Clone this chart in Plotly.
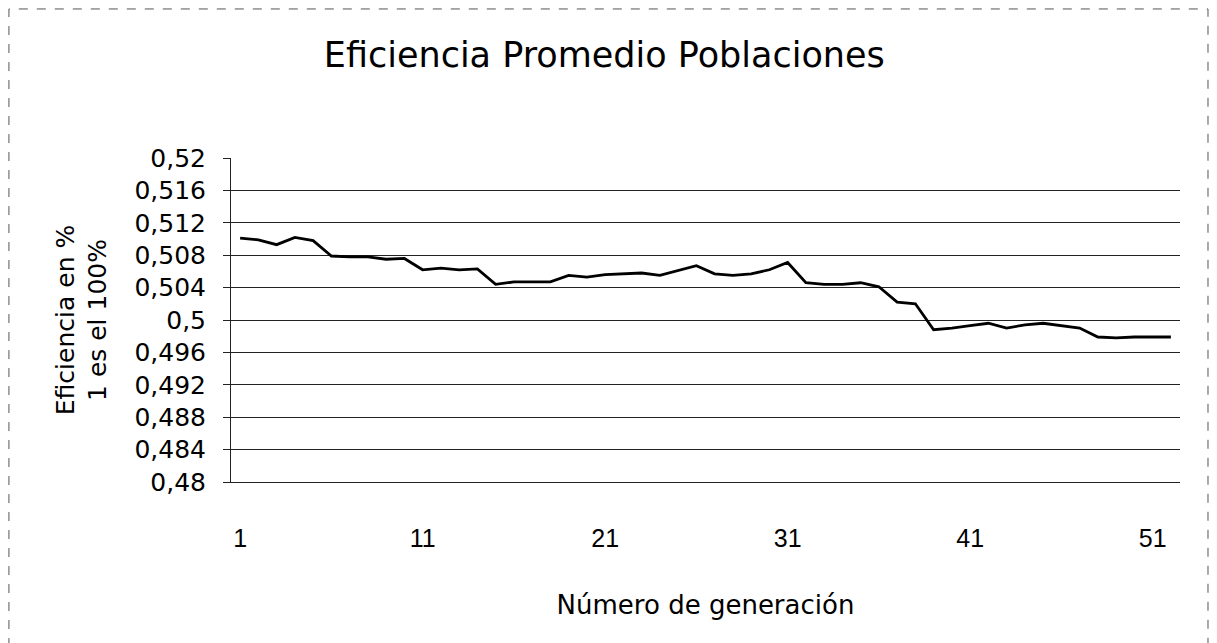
import plotly.graph_objects as go

# generation number 1..52
generaciones = list(range(1, 53))
eficiencia = [
    0.5101, 0.5099, 0.5093, 0.5102, 0.5098, 0.5079, 0.5078, 0.5078, 0.5075, 0.5076,
    0.5062, 0.5064, 0.5062, 0.5063, 0.5044, 0.5047, 0.5047, 0.5047, 0.5055, 0.5053,
    0.5056, 0.5057, 0.5058, 0.5055, 0.5061, 0.5067, 0.5057, 0.5055, 0.5057, 0.5062,
    0.5071, 0.5046, 0.5044, 0.5044, 0.5046, 0.5041, 0.5022, 0.5020, 0.4988, 0.4990,
    0.4993, 0.4996, 0.4990, 0.4994, 0.4996, 0.4993, 0.4990, 0.4979, 0.4978, 0.4979,
    0.4979, 0.4979,
]
x_ticks = [1, 11, 21, 31, 41, 51]
y_ticks = [0.48, 0.484, 0.488, 0.492, 0.496, 0.5, 0.504, 0.508, 0.512, 0.516, 0.52]
y_grid = y_ticks[1:-1]

FONT = "DejaVu Sans, Arial, sans-serif"
NARROW = "Liberation Sans, Arial, sans-serif"

fig = go.Figure()
fig.add_trace(go.Scatter(x=generaciones, y=eficiencia, mode="lines",
                         line=dict(color="black", width=2.8),
                         showlegend=False, hoverinfo="x+y"))
# invisible trace on the overlay axis that carries the gridlines
fig.add_trace(go.Scatter(x=generaciones[:1], y=eficiencia[:1], yaxis="y2",
                         mode="lines", line=dict(width=0),
                         showlegend=False, hoverinfo="skip"))

fig.update_layout(
    width=1217, height=643,
    paper_bgcolor="white", plot_bgcolor="white",
    font=dict(family=FONT, color="black", size=24),
    margin=dict(l=223, r=45, t=150, b=169),
    title=dict(text="Eficiencia Promedio Poblaciones", x=0.49, xanchor="center",
               y=1 - 47 / 643, yanchor="middle",
               font=dict(size=35, family=FONT, color="black")),
    xaxis=dict(range=[0.5, 52.5], tickvals=x_ticks, ticktext=[str(v) for v in x_ticks],
               showgrid=False, zeroline=False, showline=True, linecolor="#222",
               linewidth=1, ticks="", ticklabelstandoff=34,
               tickfont=dict(size=25, family=NARROW),
               title=dict(text="Número de generación", standoff=44,
                          font=dict(size=26, family=FONT))),
    yaxis=dict(range=[0.48, 0.52], tickvals=y_ticks,
               ticktext=[str(v).replace(".", ",") for v in y_ticks],
               showgrid=False, zeroline=False, showline=True, linecolor="#222",
               linewidth=1, ticks="outside", ticklen=7, tickcolor="#222",
               ticklabelstandoff=12, tickfont=dict(size=25, family=FONT),
               title=dict(text="Eficiencia en %<br>1 es el 100%", standoff=20,
                          font=dict(size=25, family=FONT))),
    yaxis2=dict(range=[0.48, 0.52], overlaying="y", tickvals=y_grid,
                showticklabels=False, showgrid=True, gridcolor="#222",
                gridwidth=1, zeroline=False, showline=False),
    # chart-area frame; bottom edge falls outside the visible window
    shapes=[dict(type="rect", xref="paper", yref="paper",
                 x0=-0.234, x1=1.0295, y0=-0.53, y1=1.46,
                 line=dict(color="#555", width=1, dash="dash"))],
)

fig.write_html("out.html")
